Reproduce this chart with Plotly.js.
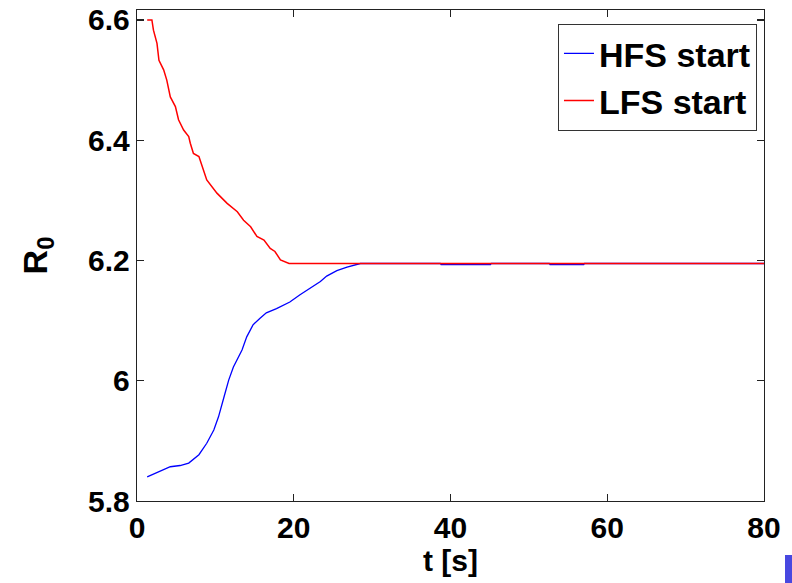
<!DOCTYPE html>
<html>
<head>
<meta charset="utf-8">
<script src="https://cdn.plot.ly/plotly-3.0.1.min.js"></script>
<style>html,body{margin:0;padding:0;background:#fff;}#chart{width:792px;height:583px;}</style>
</head>
<body>
<div id="chart"></div>
<script>
var seriesNames = ["HFS start", "LFS start"];
var tHFS = [1.3, 2.55, 4.25, 5.5, 6.6, 7.9, 8.9, 9.8, 10.4, 11.1, 11.7, 12.3, 13.0, 13.4, 14.0, 14.5, 14.8, 15.7, 16.5, 17.8, 19.5, 20.8, 22.1, 23.4, 24.2, 25.5, 26.8, 27.8, 28.5, 38.7, 38.8, 45.1, 45.2, 52.6, 52.7, 57.0, 57.1, 80];
var rHFS = [5.840, 5.847, 5.857, 5.859, 5.863, 5.877, 5.896, 5.918, 5.940, 5.973, 6.001, 6.023, 6.040, 6.051, 6.073, 6.086, 6.093, 6.104, 6.113, 6.120, 6.131, 6.143, 6.154, 6.165, 6.174, 6.183, 6.189, 6.193, 6.195, 6.195, 6.193, 6.193, 6.195, 6.195, 6.193, 6.193, 6.195, 6.195];
var tLFS = [1.3, 1.9, 2.1, 2.55, 2.8, 3.4, 3.8, 4.25, 4.9, 5.3, 5.95, 6.6, 6.8, 7.2, 7.9, 8.3, 8.9, 10.2, 11.5, 12.8, 13.6, 14.5, 15.3, 16.2, 17.0, 17.6, 18.3, 19.4, 20.0, 80];
var rLFS = [6.600, 6.600, 6.583, 6.561, 6.533, 6.517, 6.500, 6.472, 6.456, 6.434, 6.417, 6.406, 6.395, 6.378, 6.373, 6.356, 6.334, 6.312, 6.295, 6.281, 6.267, 6.256, 6.240, 6.234, 6.220, 6.215, 6.201, 6.195, 6.195, 6.195];
var xTicks = [0, 20, 40, 60, 80];
var yTicks = [5.8, 6, 6.2, 6.4, 6.6];
var yTickText = ["5.8", "6", "6.2", "6.4", "6.6"];

var FONT = "Liberation Sans, Arial, Helvetica, sans-serif";
var traces = [
  {x: tHFS, y: rHFS, mode: "lines", name: seriesNames[0], line: {color: "#0000ff", width: 1.3}},
  {x: tLFS, y: rLFS, mode: "lines", name: seriesNames[1], line: {color: "#ff0000", width: 1.5}}
];
var axisCommon = {
  showline: true, linecolor: "#222", linewidth: 1.3, mirror: "ticks",
  ticks: "inside", ticklen: 7, tickwidth: 1.2, tickcolor: "#222",
  showgrid: false, zeroline: false,
  tickfont: {family: FONT, size: 30, color: "#000", weight: "bold"}
};
var layout = {
  width: 792, height: 583,
  margin: {l: 137, r: 28, t: 10, b: 82},
  paper_bgcolor: "#fff", plot_bgcolor: "#fff",
  showlegend: true,
  xaxis: Object.assign({}, axisCommon, {
    range: [0, 80], tickvals: xTicks, ticktext: xTicks.map(String),
    title: {text: "t [s]", font: {family: FONT, size: 30, color: "#000", weight: "bold"}, standoff: 4}
  }),
  yaxis: Object.assign({}, axisCommon, {
    range: [5.8, 6.6166], tickvals: yTicks, ticktext: yTickText,
    title: {text: "R<sub>0</sub>", font: {family: FONT, size: 34, color: "#000", weight: "bold"}, standoff: 30}
  }),
  legend: {
    x: 0.9888, xanchor: "right", y: 0.972, yanchor: "top",
    bgcolor: "#fff", bordercolor: "#333", borderwidth: 1,
    font: {family: FONT, size: 34, color: "#000", weight: "bold"}
  },
  shapes: [{type: "rect", xref: "paper", yref: "paper", x0: 1.0335, x1: 1.046, y0: -0.168, y1: -0.110,
    fillcolor: "#4848e0", line: {width: 0}}]
};
Plotly.newPlot("chart", traces, layout, {staticPlot: true, displayModeBar: false});
</script>
</body>
</html>
